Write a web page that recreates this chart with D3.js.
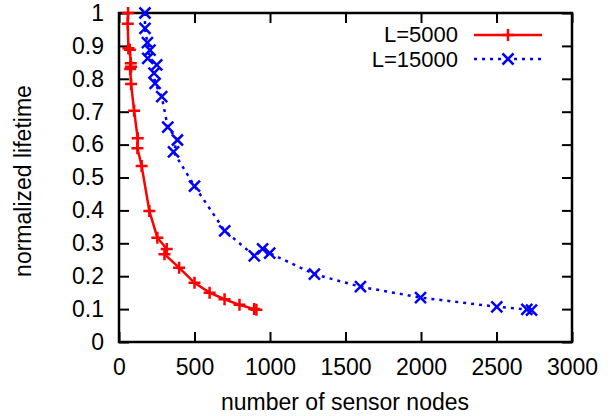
<!DOCTYPE html>
<html>
<head>
<meta charset="UTF-8">
<title>lifetime</title>
<script src="https://d3js.org/d3.v7.min.js"></script>
<style>
    body { margin: 0; background: #fff; }
    svg { font-family: "Liberation Sans", Arial, sans-serif; }
    .tick-label { font-size: 23px; fill: #000; }
    .axis-title { font-size: 23px; fill: #000; }
    .legend-label { font-size: 22px; fill: #000; }
</style>
</head>
<body>
<svg></svg>
<script>
// L=5000
const nodesA = [60, 58, 62, 72, 78, 80, 74, 80, 100, 124, 122, 150, 201, 254, 316, 301, 398, 500, 600, 699, 798, 895, 910];
const lifeA  = [1.0, 0.967, 0.893, 0.888, 0.847, 0.837, 0.83, 0.784, 0.703, 0.619, 0.589, 0.535, 0.398, 0.317, 0.283, 0.267, 0.226, 0.18, 0.15, 0.13, 0.113, 0.1, 0.098];
// L=15000
const nodesB = [172, 172, 188, 205, 190, 250, 232, 239, 283, 323, 387, 361, 500, 700, 896, 951, 998, 1294, 1599, 1997, 2502, 2701, 2732];
const lifeB  = [1.0, 0.953, 0.91, 0.887, 0.862, 0.842, 0.817, 0.786, 0.746, 0.653, 0.614, 0.578, 0.474, 0.338, 0.262, 0.283, 0.27, 0.206, 0.168, 0.135, 0.107, 0.099, 0.097];

const xTicks = [0, 500, 1000, 1500, 2000, 2500, 3000];
const yTicks = [0, 0.1, 0.2, 0.3, 0.4, 0.5, 0.6, 0.7, 0.8, 0.9, 1];
const seriesNames = ['L=5000', 'L=15000'];

const width = 613, height = 416;
const margin = { top: 13, right: 41, bottom: 74, left: 119 };
const w = width - margin.left - margin.right,
      h = height - margin.top - margin.bottom;

const svg = d3.select('svg').attr('width', width).attr('height', height);
const g = svg.append('g').attr('transform', `translate(${margin.left},${margin.top})`);

const x = d3.scaleLinear().domain([0, 3000]).range([0, w]);
const y = d3.scaleLinear().domain([0, 1]).range([h, 0]);

// ticks on all four sides, pointing inward
const tl = 10;
g.append('g').attr('transform', `translate(0,${h})`)
    .call(d3.axisBottom(x).tickValues(xTicks).tickSizeInner(-tl).tickSizeOuter(0).tickPadding(17).tickFormat(d3.format('d')))
    .call(a => a.select('.domain').remove())
    .call(a => a.selectAll('text').attr('class', 'tick-label').attr('font-size', null).attr('font-family', null));
g.append('g')
    .call(d3.axisTop(x).tickValues(xTicks).tickSizeInner(-tl).tickSizeOuter(0).tickFormat(''))
    .call(a => a.select('.domain').remove());
g.append('g')
    .call(d3.axisLeft(y).tickValues(yTicks).tickSizeInner(-tl).tickSizeOuter(0).tickPadding(15).tickFormat(d3.format('')))
    .call(a => a.select('.domain').remove())
    .call(a => a.selectAll('text').attr('class', 'tick-label').attr('font-size', null).attr('font-family', null));
g.append('g').attr('transform', `translate(${w},0)`)
    .call(d3.axisRight(y).tickValues(yTicks).tickSizeInner(-tl).tickSizeOuter(0).tickFormat(''))
    .call(a => a.select('.domain').remove());
g.selectAll('.tick line').attr('stroke', '#000').attr('stroke-width', 2);

g.append('rect').attr('width', w).attr('height', h)
    .attr('fill', 'none').attr('stroke', '#000').attr('stroke-width', 2.5);

const line = d3.line().x(d => x(d[0])).y(d => y(d[1]));
const dataA = nodesA.map((n, i) => [n, lifeA[i]]);
const dataB = nodesB.map((n, i) => [n, lifeB[i]]);

g.append('path').datum(dataA).attr('d', line)
    .attr('fill', 'none').attr('stroke', '#ff0000').attr('stroke-width', 2.5);
g.append('path').datum(dataB).attr('d', line)
    .attr('fill', 'none').attr('stroke', '#0000ff').attr('stroke-width', 2.5)
    .attr('stroke-dasharray', '3,5');

const ms = 6;
function plus(sel, cx, cy, color) {
    sel.append('path').attr('d', `M${cx - ms},${cy}H${cx + ms}M${cx},${cy - ms}V${cy + ms}`)
        .attr('stroke', color).attr('stroke-width', 2.5).attr('fill', 'none');
}
function cross(sel, cx, cy, color) {
    const s = ms - 0.5;
    sel.append('path').attr('d', `M${cx - s},${cy - s}L${cx + s},${cy + s}M${cx - s},${cy + s}L${cx + s},${cy - s}`)
        .attr('stroke', color).attr('stroke-width', 2.5).attr('fill', 'none');
}
dataA.forEach(d => plus(g, x(d[0]), y(d[1]), '#ff0000'));
dataB.forEach(d => cross(g, x(d[0]), y(d[1]), '#0000ff'));

// legend
const lg = svg.append('g');
lg.append('text').attr('class', 'legend-label').attr('x', 458).attr('y', 42).attr('text-anchor', 'end').text(seriesNames[0]);
lg.append('text').attr('class', 'legend-label').attr('x', 458).attr('y', 67).attr('text-anchor', 'end').text(seriesNames[1]);
lg.append('line').attr('x1', 474).attr('x2', 542).attr('y1', 35).attr('y2', 35)
    .attr('stroke', '#ff0000').attr('stroke-width', 2.5);
plus(lg, 508, 35, '#ff0000');
lg.append('line').attr('x1', 474).attr('x2', 542).attr('y1', 59).attr('y2', 59)
    .attr('stroke', '#0000ff').attr('stroke-width', 2.5).attr('stroke-dasharray', '3,5');
cross(lg, 508, 59, '#0000ff');

// axis titles
svg.append('text').attr('class', 'axis-title')
    .attr('x', 345).attr('y', 410).attr('text-anchor', 'middle')
    .text('number of sensor nodes');
svg.append('text').attr('class', 'axis-title')
    .attr('transform', `translate(31,181) rotate(-90)`)
    .attr('text-anchor', 'middle')
    .text('normalized lifetime');
</script>
</body>
</html>
